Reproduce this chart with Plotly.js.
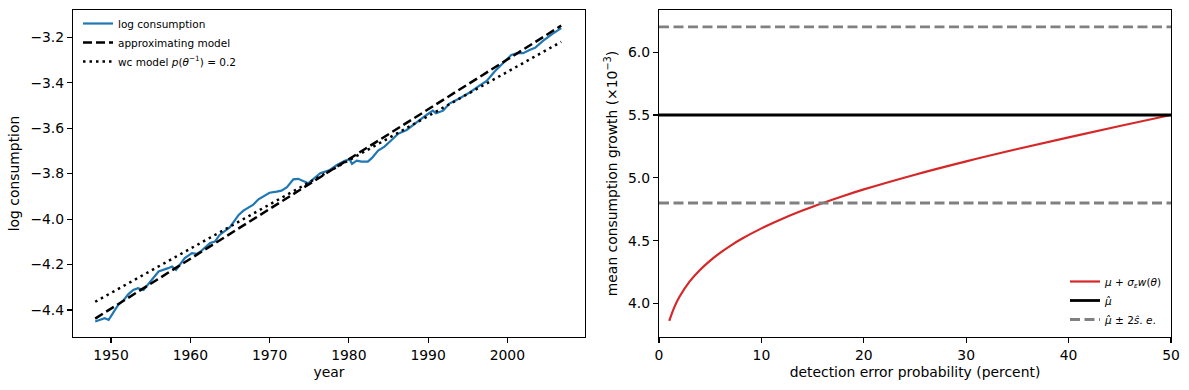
<!DOCTYPE html>
<html>
<head>
<meta charset="utf-8">
<script src="https://cdn.plot.ly/plotly-3.0.1.min.js"></script>
<style>html,body{margin:0;padding:0;background:#fff;}#chart{width:1189px;height:390px;}</style>
</head>
<body>
<div id="chart"></div>
<script>
// ---- Left panel data ----
const years = [1948.0,1948.5,1949.2,1949.7,1950.3,1950.9,1951.6,1952.2,1952.8,1953.4,1954.1,1954.6,1955.1,1956.0,1957.2,1957.7,1958.2,1958.8,1959.3,1960.2,1960.8,1961.4,1962.5,1963.1,1963.7,1965.0,1965.6,1966.1,1966.7,1967.5,1967.9,1968.6,1969.2,1970.0,1970.9,1971.5,1972.2,1973.0,1973.6,1974.3,1974.9,1976.4,1977.6,1978.5,1979.5,1980.1,1980.4,1981.0,1981.6,1982.4,1982.9,1983.7,1984.5,1985.4,1986.2,1987.3,1988.1,1988.9,1989.8,1990.6,1991.0,1991.9,1992.7,1994.0,1995.3,1996.3,1997.4,1998.4,1999.7,2000.5,2001.3,2002.0,2002.8,2003.5,2004.5,2005.6,2006.8];
const logCons = [-4.451,-4.445,-4.436,-4.444,-4.410,-4.378,-4.356,-4.330,-4.312,-4.304,-4.312,-4.290,-4.268,-4.231,-4.216,-4.209,-4.224,-4.195,-4.172,-4.150,-4.153,-4.140,-4.105,-4.099,-4.070,-4.036,-4.004,-3.982,-3.963,-3.945,-3.938,-3.913,-3.901,-3.884,-3.879,-3.875,-3.860,-3.825,-3.823,-3.835,-3.842,-3.798,-3.784,-3.762,-3.743,-3.737,-3.757,-3.743,-3.747,-3.747,-3.732,-3.699,-3.681,-3.652,-3.625,-3.608,-3.586,-3.564,-3.542,-3.523,-3.534,-3.523,-3.492,-3.468,-3.442,-3.417,-3.392,-3.351,-3.307,-3.278,-3.270,-3.270,-3.256,-3.246,-3.216,-3.187,-3.160];
const modelYears = [1948.0, 2006.8];
const approxModel = [-4.438, -3.149];
const wcModel = [-4.364, -3.220];

// ---- Right panel data ----
const detProb = [1,1.5,2,3,4,5,6,7,8,10,12,14,16,18,20,25,30,35,40,45,50];
const muWorst = [3.862,3.972,4.054,4.176,4.267,4.342,4.405,4.461,4.511,4.598,4.673,4.740,4.800,4.856,4.908,5.025,5.131,5.229,5.322,5.412,5.500];
const probRange = [0, 50];
const muHat = 5.5;
const muUpper = 6.2;
const muLower = 4.8;

const font = {family: 'DejaVu Sans', size: 13.9, color: '#000'};
const legFont = {family: 'DejaVu Sans', size: 10.5, color: '#000'};

const traces = [
  {x: years, y: logCons, xaxis: 'x', yaxis: 'y', mode: 'lines', name: 'log consumption',
   line: {color: '#1f77b4', width: 2.2}, legend: 'legend'},
  {x: modelYears, y: approxModel, xaxis: 'x', yaxis: 'y', mode: 'lines', name: 'approximating model',
   line: {color: '#000', width: 2.5, dash: '9px,4px'}, legend: 'legend'},
  {x: modelYears, y: wcModel, xaxis: 'x', yaxis: 'y', mode: 'lines', name: 'wc model <i>p</i>(<i>θ</i><sup>−1</sup>) = 0.2',
   line: {color: '#000', width: 2.5, dash: '2.5px,4px'}, legend: 'legend'},
  {x: detProb, y: muWorst, xaxis: 'x2', yaxis: 'y2', mode: 'lines', name: '<i>μ</i> + <i>σ<sub>ε</sub>w</i>(<i>θ</i>)',
   line: {color: '#d62728', width: 2.2, shape: 'spline'}, legend: 'legend2'},
  {x: probRange, y: [muHat, muHat], xaxis: 'x2', yaxis: 'y2', mode: 'lines', name: '<i>μ̂</i>',
   line: {color: '#000', width: 2.8}, legend: 'legend2'},
  {x: probRange, y: [muUpper, muUpper], xaxis: 'x2', yaxis: 'y2', mode: 'lines', name: '<i>μ̂</i> ± 2<i>ŝ</i>. <i>e</i>.',
   line: {color: '#808080', width: 2.8, dash: '10px,4.5px'}, legend: 'legend2'},
  {x: probRange, y: [muLower, muLower], xaxis: 'x2', yaxis: 'y2', mode: 'lines', showlegend: false,
   line: {color: '#808080', width: 2.8, dash: '10px,4.5px'}, legend: 'legend2'}
];

const axBase = {showline: true, mirror: true, linecolor: '#000', linewidth: 1.1, ticks: 'outside',
  ticklen: 5, tickwidth: 1.1, tickcolor: '#000', showgrid: false, zeroline: false, tickfont: font};

const layout = {
  width: 1189, height: 390, margin: {l: 0, r: 0, t: 0, b: 0},
  paper_bgcolor: '#fff', plot_bgcolor: '#fff', font: font,
  xaxis: Object.assign({}, axBase, {domain: [73/1189, 585/1189], range: [1945.2, 2009.8], dtick: 10, tick0: 1950,
    anchor: 'y', title: {text: 'year', font: font, standoff: 5}}),
  yaxis: Object.assign({}, axBase, {domain: [53/390, 380/390], range: [-4.519, -3.08], dtick: 0.2, tick0: -4.4,
    tickformat: '.1f', anchor: 'x', title: {text: 'log consumption', font: font, standoff: 7}}),
  xaxis2: Object.assign({}, axBase, {domain: [659/1189, 1171/1189], range: [0, 50], dtick: 10, tick0: 0,
    anchor: 'y2', title: {text: 'detection error probability (percent)', font: font, standoff: 5}}),
  yaxis2: Object.assign({}, axBase, {domain: [53/390, 380/390], range: [3.734, 6.335], dtick: 0.5, tick0: 4,
    tickformat: '.1f', anchor: 'x2', title: {text: 'mean consumption growth (×10<sup>−3</sup>)', font: font, standoff: 7}}),
  legend: {x: 78/1189, y: 1 - 9/390, xanchor: 'left', yanchor: 'top', bgcolor: 'rgba(0,0,0,0)',
    font: legFont, tracegroupgap: 0, itemwidth: 30},
  legend2: {x: 1168/1189, y: 1 - 334/390, xanchor: 'right', yanchor: 'bottom', bgcolor: 'rgba(0,0,0,0)',
    font: legFont, tracegroupgap: 0, itemwidth: 30},
  showlegend: true
};

Plotly.newPlot('chart', traces, layout, {staticPlot: true, displayModeBar: false});
</script>
</body>
</html>
